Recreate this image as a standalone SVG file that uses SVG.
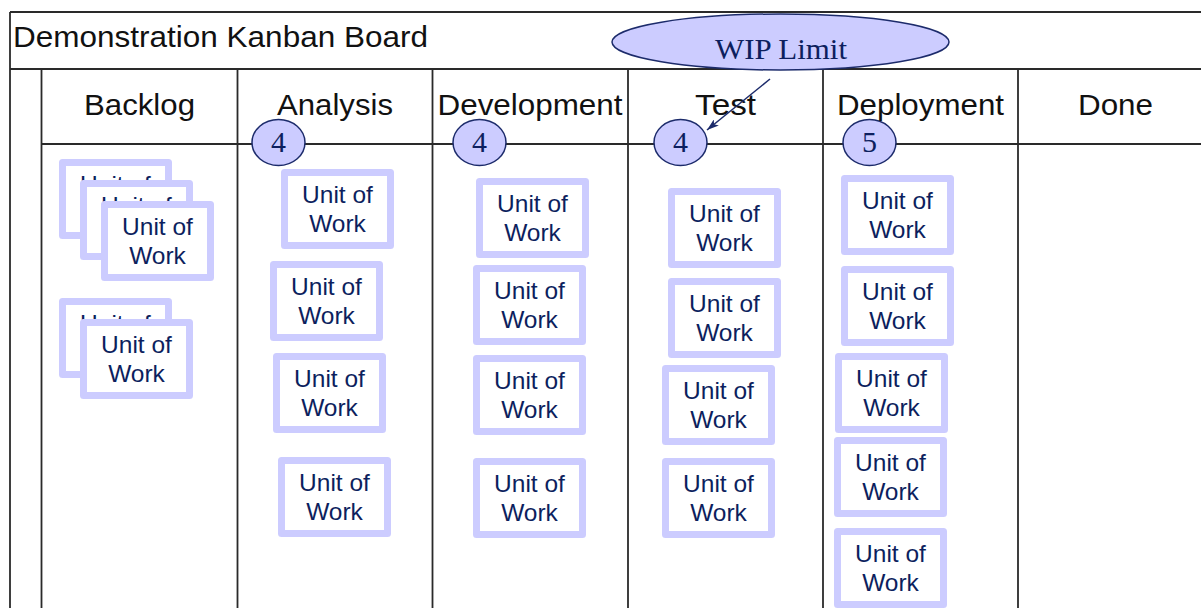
<svg xmlns="http://www.w3.org/2000/svg" width="1201" height="608" viewBox="0 0 1201 608">
<style>
.grid{stroke:#2a2a2a;stroke-width:1.8;fill:none}
.title{font-family:"Liberation Sans",Arial,sans-serif;font-size:29px;fill:#111}
.hdr{font-family:"Liberation Sans",Arial,sans-serif;font-size:29px;fill:#111;text-anchor:middle}
.card rect{fill:#fff;stroke:#ccccff;stroke-width:7;stroke-linejoin:round}
.card text{font-family:"Liberation Sans",Arial,sans-serif;font-size:24.5px;fill:#0d1f5e;text-anchor:middle}
.wip ellipse{fill:#ccccff;stroke:#1c2b6b;stroke-width:1.5}
.wip text{font-family:"Liberation Serif","Times New Roman",serif;font-size:30px;fill:#0d1f5e;text-anchor:middle}
.conn{stroke:#1c2b6b;stroke-width:1.5;fill:none}
</style>
<defs>
<marker id="ah" viewBox="0 0 12 8" refX="12" refY="4" markerWidth="12" markerHeight="8" markerUnits="userSpaceOnUse" orient="auto">
<path d="M0,0 L12,4 L0,8 L3,4 Z" fill="#1c2b6b"/>
</marker>
</defs>
<rect width="1201" height="608" fill="#fff"/>
<g id="grid" class="grid">
<line x1="10" y1="12" x2="1201" y2="12"/>
<line x1="10" y1="12" x2="10" y2="608"/>
<line x1="10" y1="69" x2="1201" y2="69"/>
<line x1="41.5" y1="69" x2="41.5" y2="608"/>
<line x1="41.5" y1="144" x2="1201" y2="144"/>
<line x1="237.5" y1="69" x2="237.5" y2="608"/>
<line x1="432.5" y1="69" x2="432.5" y2="608"/>
<line x1="628" y1="69" x2="628" y2="608"/>
<line x1="823" y1="69" x2="823" y2="608"/>
<line x1="1018" y1="69" x2="1018" y2="608"/>
</g>
<text id="title" class="title" x="13" y="47" textLength="415" lengthAdjust="spacingAndGlyphs">Demonstration Kanban Board</text>
<g id="wip-analysis" class="wip"><ellipse cx="278.5" cy="142.5" rx="26.5" ry="23"/><text x="278.5" y="152">4</text></g>
<g id="wip-development" class="wip"><ellipse cx="479.5" cy="142.5" rx="26.5" ry="23"/><text x="479.5" y="152">4</text></g>
<g id="wip-test" class="wip"><ellipse cx="680.5" cy="142.5" rx="26.5" ry="23"/><text x="680.5" y="152">4</text></g>
<g id="wip-deployment" class="wip"><ellipse cx="869.5" cy="142.5" rx="26.5" ry="23"/><text x="869.5" y="152">5</text></g>
<g id="headers">
<text class="hdr" x="139.5" y="115" textLength="111" lengthAdjust="spacingAndGlyphs">Backlog</text>
<text class="hdr" x="335" y="115" textLength="116" lengthAdjust="spacingAndGlyphs">Analysis</text>
<text class="hdr" x="530" y="115" textLength="185" lengthAdjust="spacingAndGlyphs">Development</text>
<text class="hdr" x="725.5" y="115" textLength="61" lengthAdjust="spacingAndGlyphs">Test</text>
<text class="hdr" x="920.5" y="115" textLength="167" lengthAdjust="spacingAndGlyphs">Deployment</text>
<text class="hdr" x="1115.5" y="115" textLength="75" lengthAdjust="spacingAndGlyphs">Done</text>
</g>
<g id="backlog-1a" class="card" transform="translate(59,159)"><rect x="3.5" y="3.5" width="106" height="73"/><text x="56.5" y="34">Unit of</text><text x="56.5" y="63">Work</text></g>
<g id="backlog-1b" class="card" transform="translate(80,180)"><rect x="3.5" y="3.5" width="106" height="73"/><text x="56.5" y="34">Unit of</text><text x="56.5" y="63">Work</text></g>
<g id="backlog-1c" class="card" transform="translate(101,201)"><rect x="3.5" y="3.5" width="106" height="73"/><text x="56.5" y="34">Unit of</text><text x="56.5" y="63">Work</text></g>
<g id="backlog-2a" class="card" transform="translate(59,298)"><rect x="3.5" y="3.5" width="106" height="73"/><text x="56.5" y="34">Unit of</text><text x="56.5" y="63">Work</text></g>
<g id="backlog-2b" class="card" transform="translate(80,319)"><rect x="3.5" y="3.5" width="106" height="73"/><text x="56.5" y="34">Unit of</text><text x="56.5" y="63">Work</text></g>
<g id="analysis-1" class="card" transform="translate(281,169)"><rect x="3.5" y="3.5" width="106" height="73"/><text x="56.5" y="34">Unit of</text><text x="56.5" y="63">Work</text></g>
<g id="analysis-2" class="card" transform="translate(270,261)"><rect x="3.5" y="3.5" width="106" height="73"/><text x="56.5" y="34">Unit of</text><text x="56.5" y="63">Work</text></g>
<g id="analysis-3" class="card" transform="translate(273,353)"><rect x="3.5" y="3.5" width="106" height="73"/><text x="56.5" y="34">Unit of</text><text x="56.5" y="63">Work</text></g>
<g id="analysis-4" class="card" transform="translate(278,457)"><rect x="3.5" y="3.5" width="106" height="73"/><text x="56.5" y="34">Unit of</text><text x="56.5" y="63">Work</text></g>
<g id="development-1" class="card" transform="translate(476,178)"><rect x="3.5" y="3.5" width="106" height="73"/><text x="56.5" y="34">Unit of</text><text x="56.5" y="63">Work</text></g>
<g id="development-2" class="card" transform="translate(473,265)"><rect x="3.5" y="3.5" width="106" height="73"/><text x="56.5" y="34">Unit of</text><text x="56.5" y="63">Work</text></g>
<g id="development-3" class="card" transform="translate(473,355)"><rect x="3.5" y="3.5" width="106" height="73"/><text x="56.5" y="34">Unit of</text><text x="56.5" y="63">Work</text></g>
<g id="development-4" class="card" transform="translate(473,458)"><rect x="3.5" y="3.5" width="106" height="73"/><text x="56.5" y="34">Unit of</text><text x="56.5" y="63">Work</text></g>
<g id="test-1" class="card" transform="translate(668,188)"><rect x="3.5" y="3.5" width="106" height="73"/><text x="56.5" y="34">Unit of</text><text x="56.5" y="63">Work</text></g>
<g id="test-2" class="card" transform="translate(668,278)"><rect x="3.5" y="3.5" width="106" height="73"/><text x="56.5" y="34">Unit of</text><text x="56.5" y="63">Work</text></g>
<g id="test-3" class="card" transform="translate(662,365)"><rect x="3.5" y="3.5" width="106" height="73"/><text x="56.5" y="34">Unit of</text><text x="56.5" y="63">Work</text></g>
<g id="test-4" class="card" transform="translate(662,458)"><rect x="3.5" y="3.5" width="106" height="73"/><text x="56.5" y="34">Unit of</text><text x="56.5" y="63">Work</text></g>
<g id="deployment-1" class="card" transform="translate(841,175)"><rect x="3.5" y="3.5" width="106" height="73"/><text x="56.5" y="34">Unit of</text><text x="56.5" y="63">Work</text></g>
<g id="deployment-2" class="card" transform="translate(841,266)"><rect x="3.5" y="3.5" width="106" height="73"/><text x="56.5" y="34">Unit of</text><text x="56.5" y="63">Work</text></g>
<g id="deployment-3" class="card" transform="translate(835,353)"><rect x="3.5" y="3.5" width="106" height="73"/><text x="56.5" y="34">Unit of</text><text x="56.5" y="63">Work</text></g>
<g id="deployment-4" class="card" transform="translate(834,437)"><rect x="3.5" y="3.5" width="106" height="73"/><text x="56.5" y="34">Unit of</text><text x="56.5" y="63">Work</text></g>
<g id="deployment-5" class="card" transform="translate(834,528)"><rect x="3.5" y="3.5" width="106" height="73"/><text x="56.5" y="34">Unit of</text><text x="56.5" y="63">Work</text></g>
<g id="wip-limit" class="wip"><ellipse cx="780.5" cy="42" rx="168.5" ry="28"/><text x="781" y="59" textLength="132" lengthAdjust="spacingAndGlyphs">WIP Limit</text></g>
<g id="connectors">
<line class="conn" x1="770" y1="79" x2="707" y2="130" marker-end="url(#ah)"/>
</g>
</svg>
